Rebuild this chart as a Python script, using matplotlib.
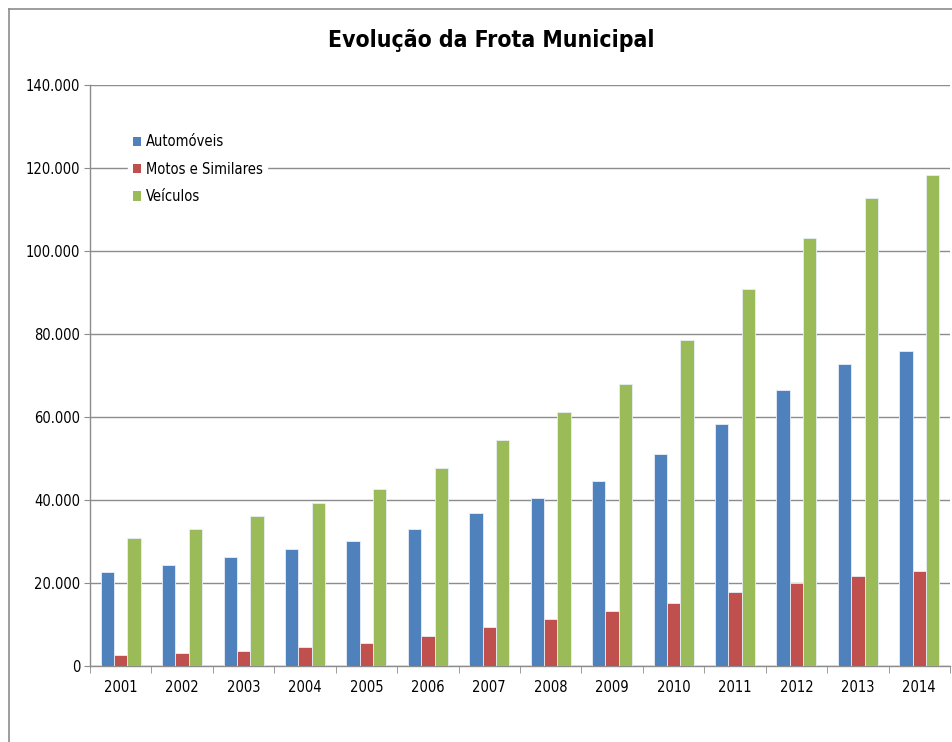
import matplotlib
matplotlib.use("Agg")
import matplotlib.pyplot as plt
from matplotlib.lines import Line2D
from matplotlib.ticker import FuncFormatter
import numpy as np

years = ["2001", "2002", "2003", "2004", "2005", "2006", "2007",
         "2008", "2009", "2010", "2011", "2012", "2013", "2014"]
automoveis = [22600, 24300, 26200, 28300, 30200, 33000, 36900,
              40400, 44600, 51000, 58200, 66600, 72700, 76000]
motos = [2650, 3100, 3700, 4500, 5500, 7150, 9300,
         11400, 13200, 15200, 17900, 20000, 21700, 22900]
veiculos = [30800, 33000, 36100, 39200, 42600, 47600, 54400,
            61300, 68000, 78500, 90800, 103200, 112700, 118300]
series_names = ["Automóveis", "Motos e Similares", "Veículos"]
colors = ["#4F81BD", "#C0504D", "#9BBB59"]

plt.rcParams["font.family"] = ["DejaVu Sans"]
plt.rcParams["font.stretch"] = "condensed"

W, H = 953, 742
fig = plt.figure(figsize=(W / 100, H / 100), dpi=100)
fig.patch.set_facecolor("white")

# outer chart frame (left and top edges visible)
fig.add_artist(Line2D([9 / W, 9 / W], [0, 1 - 9 / H], transform=fig.transFigure,
                      color="#8c8c8c", lw=1.2))
fig.add_artist(Line2D([9 / W, 1], [1 - 9 / H, 1 - 9 / H], transform=fig.transFigure,
                      color="#8c8c8c", lw=1.2))

left, right, top, bottom = 90, 950, 85, 666
ax = fig.add_axes([left / W, 1 - bottom / H, (right - left) / W, (bottom - top) / H])

x = np.arange(len(years))
bw = 0.217
for i, (vals, name, c) in enumerate(zip([automoveis, motos, veiculos], series_names, colors)):
    ax.bar(x + (i - 1) * bw, vals, width=bw, color=c, edgecolor="#e8eef7",
           linewidth=0.6, label=name, zorder=3)

ax.set_xlim(-0.5, len(years) - 0.5)
ax.set_ylim(0, 140000)
ax.set_yticks(np.arange(0, 140001, 20000))
ax.yaxis.set_major_formatter(FuncFormatter(lambda v, p: "0" if v == 0 else f"{int(v):,}".replace(",", ".")))
ax.set_xticks(x)
ax.set_xticklabels(years)
ax.set_xticks(np.arange(-0.5, len(years), 1), minor=True)
ax.tick_params(axis="x", which="major", length=0, pad=10, labelsize=10.5)
ax.tick_params(axis="x", which="minor", length=5, color="#8c8c8c", direction="out")
ax.tick_params(axis="y", which="major", length=4, color="#8c8c8c", labelsize=10.5, pad=3)

ax.grid(axis="y", color="#8c8c8c", linewidth=1.0, zorder=0)
for s in ["top", "right"]:
    ax.spines[s].set_visible(False)
for s in ["left", "bottom"]:
    ax.spines[s].set_color("#8c8c8c")
    ax.spines[s].set_linewidth(1.0)

leg = ax.legend(loc="upper left", bbox_to_anchor=(0.036, 0.935), frameon=True,
                fancybox=False, edgecolor="white", facecolor="white", framealpha=1,
                fontsize=10.5, handlelength=0.6, handleheight=0.6, handletextpad=0.3,
                labelspacing=0.85, borderpad=0.3)
for h in leg.legend_handles:
    h.set_edgecolor("none")

fig.text(491 / W, 1 - 40 / H, "Evolução da Frota Municipal", ha="center", va="center",
         fontsize=16.5, fontweight="bold")

fig.savefig("out.png", dpi=100, facecolor="white")
